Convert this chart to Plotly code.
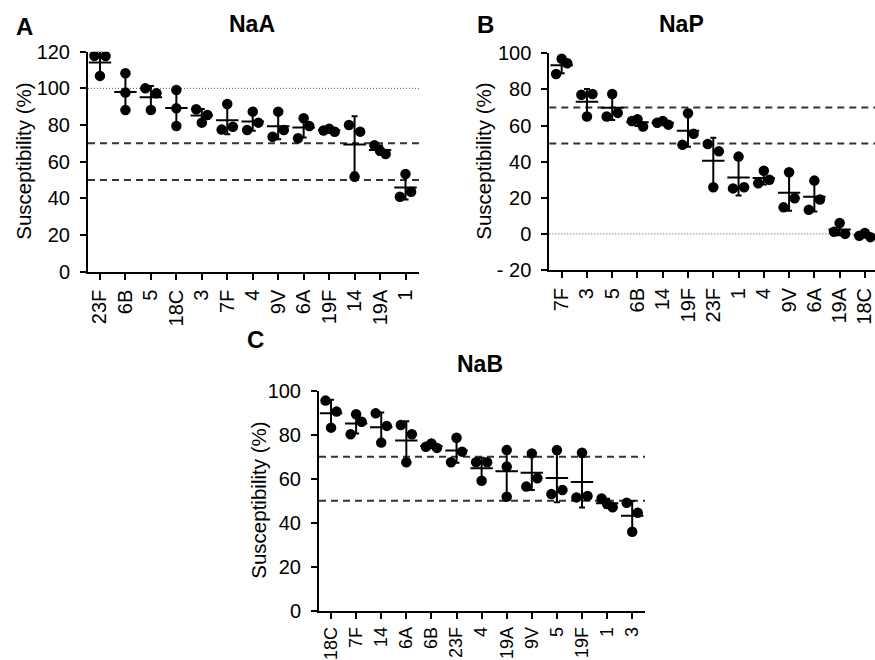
import numpy as np
import plotly.graph_objects as go

FONT = "Liberation Sans, Arial, sans-serif"

# ---------------- data ----------------
naa_serotypes = ["23F", "6B", "5", "18C", "3", "7F", "4", "9V", "6A", "19F", "14", "19A", "1"]
naa_values = [
    [117.8, 117.6, 106.8],
    [108.2, 97.7, 88.2],
    [100.0, 97.3, 88.2],
    [99.1, 89.1, 79.5],
    [81.3, 88.6, 85.5],
    [91.5, 77.5, 79.0],
    [87.3, 77.3, 81.3],
    [87.3, 73.6, 77.3],
    [83.7, 72.8, 79.5],
    [78.0, 77.0, 76.3],
    [80.0, 76.4, 51.8],
    [66.0, 69.0, 64.2],
    [53.3, 40.9, 43.6],
]

nap_serotypes = ["7F", "3", "5", "6B", "14", "19F", "23F", "1", "4", "9V", "6A", "19A", "18C"]
nap_values = [
    [97.0, 88.5, 94.5],
    [77.0, 77.5, 65.0],
    [77.5, 65.0, 67.0],
    [63.5, 62.5, 59.5],
    [62.5, 61.5, 60.5],
    [66.8, 49.3, 55.4],
    [49.8, 45.7, 25.8],
    [42.8, 25.2, 25.8],
    [35.0, 28.0, 30.0],
    [34.1, 14.7, 19.7],
    [29.5, 13.3, 19.0],
    [6.0, 1.2, 0.0],
    [0.5, -1.0, -1.8],
]

nab_serotypes = ["18C", "7F", "14", "6A", "6B", "23F", "4", "19A", "9V", "5", "19F", "1", "3"]
nab_values = [
    [95.5, 90.5, 83.2],
    [89.3, 80.2, 85.9],
    [89.7, 84.0, 76.4],
    [84.4, 80.2, 67.5],
    [76.0, 74.5, 74.0],
    [78.6, 67.5, 72.3],
    [67.5, 67.5, 59.1],
    [73.0, 65.5, 51.8],
    [71.5, 56.4, 60.2],
    [73.0, 53.0, 54.9],
    [71.8, 51.5, 52.1],
    [48.5, 51.0, 47.0],
    [49.1, 44.5, 35.9],
]

naa_dashed = [70, 50]
naa_dotted = [100]
nap_dashed = [70, 50]
nap_dotted = [0]
nab_dashed = [70, 50]

W, H = 875, 660


def jitter(vals, thr, half):
    order = sorted(range(len(vals)), key=lambda i: vals[i])
    clusters, cur = [], [order[0]]
    for i in order[1:]:
        if vals[i] - vals[cur[-1]] < thr:
            cur.append(i)
        else:
            clusters.append(cur)
            cur = [i]
    clusters.append(cur)
    off = [0.0] * len(vals)
    for c in clusters:
        c = sorted(c)
        if len(c) == 2:
            off[c[0]], off[c[1]] = -half, half
        elif len(c) >= 3:
            pat = [0.0, -half, half]
            for k, i in enumerate(c):
                off[i] = pat[k % 3]
    return off


fig = go.Figure()


def add_panel(idx, cats, values, px_per_unit):
    sfx = "" if idx == 1 else str(idx)
    xa, ya = "x" + sfx, "y" + sfx
    thr = 13.0 / px_per_unit
    px, py = [], []
    means, sds = [], []
    for i, vals in enumerate(values):
        off = jitter(vals, thr, 0.22)
        for v, o in zip(vals, off):
            px.append(i + o)
            py.append(v)
        means.append(float(np.mean(vals)))
        sds.append(float(np.std(vals, ddof=1)))
    fig.add_trace(go.Scatter(
        x=px, y=py, mode="markers", xaxis=xa, yaxis=ya,
        marker=dict(symbol="circle", size=10.5, color="black"),
        hoverinfo="skip"))
    fig.add_trace(go.Scatter(
        x=list(range(len(cats))), y=means, mode="markers", xaxis=xa, yaxis=ya,
        marker=dict(symbol="line-ew", size=16, color="black",
                    line=dict(width=2, color="black")),
        error_y=dict(type="data", array=sds, visible=True, thickness=2,
                     width=3, color="black"),
        hoverinfo="skip"))


add_panel(1, naa_serotypes, naa_values, 1.833)
add_panel(2, nap_serotypes, nap_values, 1.806)
add_panel(3, nab_serotypes, nab_values, 2.2)


def xdom(a, b):
    return [a / W, min(b / W, 1.0)]


def ydom(bottom, top):
    return [1 - bottom / H, 1 - top / H]


axis_common = dict(showline=True, linecolor="black", linewidth=2, ticks="outside",
                   ticklen=6, tickwidth=2, tickcolor="black", showgrid=False,
                   zeroline=False, automargin=False,
                   tickfont=dict(family=FONT, size=20, color="black"))

def xaxis_cfg(cats, dom, anchor, rng, fsize=20, standoff=2):
    d = dict(axis_common)
    d.update(domain=dom, anchor=anchor, range=rng, tickmode="array",
             tickvals=list(range(len(cats))), ticktext=cats, tickangle=-90,
             ticklabeloverflow="allow", ticklabelstandoff=standoff,
             tickfont=dict(family=FONT, size=fsize, color="black"))
    return d


def yaxis_cfg(dom, anchor, rng, tvals, ttext):
    d = dict(axis_common)
    d.update(domain=dom, anchor=anchor, range=rng, tickmode="array",
             tickvals=tvals, ticktext=ttext, ticklabelstandoff=6)
    return d


a_ticks = [0, 20, 40, 60, 80, 100, 120]
b_ticks = [-20, 0, 20, 40, 60, 80, 100]
c_ticks = [0, 20, 40, 60, 80, 100]

fig.update_layout(
    template="none",
    width=W, height=H, margin=dict(l=0, r=0, t=0, b=0, pad=0),
    paper_bgcolor="white", plot_bgcolor="white", showlegend=False,
    font=dict(family=FONT, color="black"),
    xaxis=xaxis_cfg(naa_serotypes, xdom(88, 419), "y", [-0.47, 12.53]),
    yaxis=yaxis_cfg(ydom(271.7, 51.7), "x", [0, 120], a_ticks, [str(t) for t in a_ticks]),
    xaxis2=xaxis_cfg(nap_serotypes, xdom(549.3, 875), "y2", [-0.49, 12.4]),
    yaxis2=yaxis_cfg(ydom(270, 53.3), "x2", [-20, 100], b_ticks,
                     [("- " + str(-t)) if t < 0 else str(t) for t in b_ticks]),
    xaxis3=xaxis_cfg(nab_serotypes, xdom(319, 645), "y3", [-0.48, 12.51], fsize=18, standoff=1),
    yaxis3=yaxis_cfg(ydom(610.7, 390.7), "x3", [0, 100], c_ticks, [str(t) for t in c_ticks]),
)

shapes = []
for sfx, dashed, dotted in [("", naa_dashed, naa_dotted), ("2", nap_dashed, nap_dotted),
                            ("3", nab_dashed, [])]:
    for v in dashed:
        shapes.append(dict(type="line", xref="x" + sfx + " domain", yref="y" + sfx,
                           x0=0, x1=1, y0=v, y1=v, layer="below",
                           line=dict(color="#333333", width=2, dash="7px,5px")))
    for v in dotted:
        shapes.append(dict(type="line", xref="x" + sfx + " domain", yref="y" + sfx,
                           x0=0, x1=1, y0=v, y1=v, layer="below",
                           line=dict(color="#555555", width=1, dash="1px,2px")))
fig.update_layout(shapes=shapes)


def ann(text, x, y, size, bold=False, angle=0):
    return dict(text=("<b>%s</b>" % text) if bold else text, x=x / W, y=1 - y / H,
                xref="paper", yref="paper", showarrow=False, textangle=angle,
                xanchor="center", yanchor="middle",
                font=dict(family=FONT, size=size, color="black"))


fig.update_layout(annotations=[
    ann("A", 24, 26, 24, True),
    ann("NaA", 252, 24, 23, True),
    ann("B", 485, 25, 24, True),
    ann("NaP", 681, 24, 23, True),
    ann("C", 255, 339, 24, True),
    ann("NaB", 480, 364, 23, True),
    ann("Susceptibility (%)", 24, 161.7, 20.5, False, -90),
    ann("Susceptibility (%)", 484, 161.7, 20.5, False, -90),
    ann("Susceptibility (%)", 259, 500.7, 20.5, False, -90),
])

fig.write_html("out.html",
               config={"displayModeBar": False, "staticPlot": True},
               post_script="document.body.style.margin='0';document.body.style.overflow='hidden';")
